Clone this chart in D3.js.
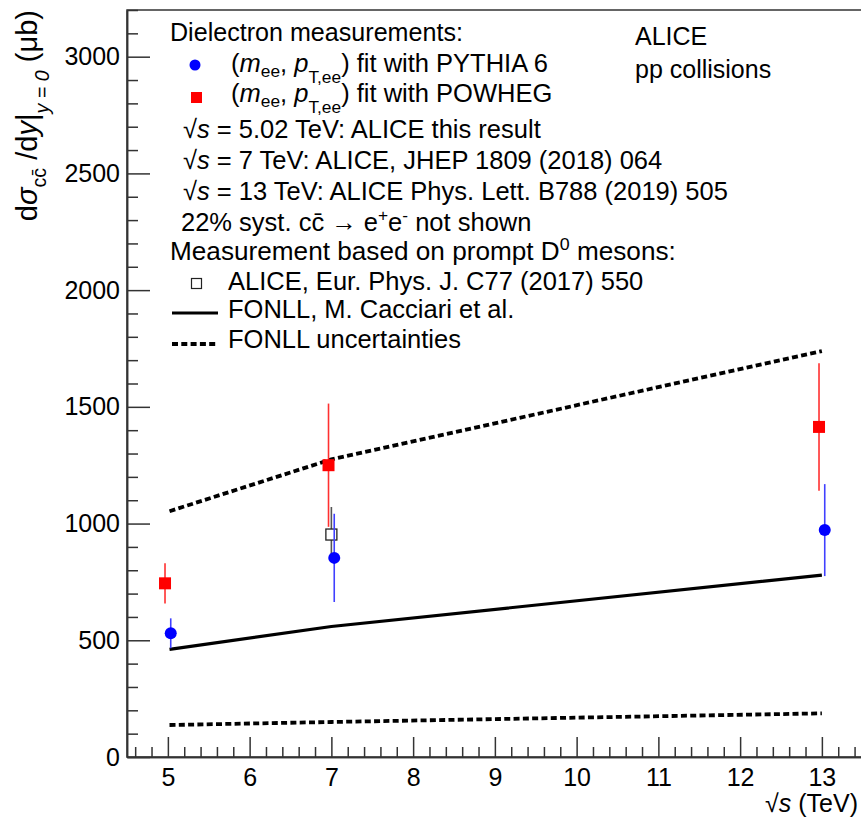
<!DOCTYPE html>
<html>
<head>
<meta charset="utf-8">
<script src="https://cdn.jsdelivr.net/npm/d3@7"></script>
<style>
  html, body { margin: 0; padding: 0; background: #fff; }
  svg { display: block; }
  text { font-family: "Liberation Sans", Arial, Helvetica, sans-serif; fill: #000; }
</style>
</head>
<body>
<svg id="chart" width="861" height="821"></svg>
<script>
// ---------------- data ----------------
const measEnergies = [5, 7, 13];            // sqrt(s) in TeV (display positions of the 3 measurements)
const pythiaValues = [530, 853, 972];       // ub
const pythiaErrors = [64, 189, 197];
const powhegValues = [744, 1250, 1414];
const powhegErrors = [86, 264, 273];
const d0Energies = [7];
const d0Values = [953];
const d0Errors = [118];
const fonllEnergies = [5.02, 7, 13];
const fonllCentral = [461, 559, 779];
const fonllUpper = [1053, 1275, 1739];
const fonllLower = [137, 150, 187];
const xTickValues = [5, 6, 7, 8, 9, 10, 11, 12, 13];
const yTickValues = [0, 500, 1000, 1500, 2000, 2500, 3000];

// ---------------- layout ----------------
const svg = d3.select("#chart");
const L = 127, T = 10, B = 757;
const x = d3.scaleLinear().domain([4.5, 14]).range([L, L + 9.5 * 81.75]);
const y = d3.scaleLinear().domain([0, 3200]).range([B, T]);
const axisColor = "#333";
const FS = 25;
const LFS = 25.5;

// frame
svg.append("rect").attr("x", L).attr("y", T)
  .attr("width", x(14) - L).attr("height", B - T)
  .attr("fill", "none").attr("stroke", axisColor).attr("stroke-width", 1.5);

// y axis
const yMinor = d3.range(0, 3201, 100).filter(v => v % 500 !== 0);
const gyMinor = svg.append("g").attr("transform", `translate(${L},0)`)
  .call(d3.axisLeft(y).tickValues(yMinor).tickSize(-11).tickSizeOuter(0).tickFormat(""));
const gy = svg.append("g").attr("transform", `translate(${L},0)`)
  .call(d3.axisLeft(y).tickValues(yTickValues).tickSize(-23).tickSizeOuter(0).tickPadding(7).tickFormat(d3.format("d")));
// x axis
const xMinor = d3.range(4.6, 14.01, 0.2).filter(v => Math.abs(v - Math.round(v)) > 0.01);
const gxMinor = svg.append("g").attr("transform", `translate(0,${B})`)
  .call(d3.axisBottom(x).tickValues(xMinor).tickSize(-10).tickSizeOuter(0).tickFormat(""));
const gx = svg.append("g").attr("transform", `translate(0,${B})`)
  .call(d3.axisBottom(x).tickValues(xTickValues).tickSize(-20).tickSizeOuter(0).tickPadding(11).tickFormat(d3.format("d")));
[gy, gyMinor, gx, gxMinor].forEach(g => {
  g.selectAll("path.domain").attr("stroke", axisColor).attr("stroke-width", 1.5);
  g.selectAll(".tick line").attr("stroke", axisColor).attr("stroke-width", 1.5);
  g.selectAll("text").attr("font-size", FS).attr("font-family", "Liberation Sans, Arial, sans-serif").attr("fill", "#000");
});

// ---------------- rich text helper ----------------
function rich(parent, px, py, parts, size, opts = {}) {
  const t = parent.append("text").attr("x", px).attr("y", py).attr("font-size", size);
  if (opts.anchor) t.attr("text-anchor", opts.anchor);
  if (opts.transform) t.attr("transform", opts.transform);
  let cur = 0;
  parts.forEach(p => {
    const [str, kind, shift] = p;
    const s = t.append("tspan").text(str);
    let target = 0, fs = size;
    if (kind && kind.includes("sub")) { target = (shift !== undefined ? shift : 0.22) * size; fs = size * 0.68; }
    if (kind && kind.includes("sup")) { target = (shift !== undefined ? shift : -0.38) * size; fs = size * 0.68; }
    if (kind && kind.includes("i")) s.attr("font-style", "italic");
    s.attr("font-size", fs);
    if (target !== cur) { s.attr("dy", target - cur); cur = target; }
  });
  return t;
}
// stretch a text horizontally so that it ends at a given x
function fitTo(t, x0, y0, xEnd) {
  const w = t.node().getComputedTextLength();
  const s = (xEnd - x0) / w;
  t.attr("x", 0).attr("y", 0).attr("transform", `translate(${x0},${y0}) scale(${s},1)`);
}

// ---------------- FONLL curves ----------------
const line = d3.line().x(d => x(d[0])).y(d => y(d[1]));
const pts = arr => fonllEnergies.map((e, i) => [e, arr[i]]);
svg.append("path").attr("d", line(pts(fonllUpper))).attr("fill", "none")
  .attr("stroke", "#000").attr("stroke-width", 3.8).attr("stroke-dasharray", "6,3.3");
svg.append("path").attr("d", line(pts(fonllLower))).attr("fill", "none")
  .attr("stroke", "#000").attr("stroke-width", 3.8).attr("stroke-dasharray", "6,3.3");
svg.append("path").attr("d", line(pts(fonllCentral))).attr("fill", "none")
  .attr("stroke", "#000").attr("stroke-width", 3.2);

// ---------------- measurements ----------------
const shift = 0.035;
const gRed = svg.append("g");
measEnergies.forEach((e, i) => {
  const cx = x(e - shift);
  gRed.append("line").attr("x1", cx).attr("x2", cx)
    .attr("y1", y(powhegValues[i] - powhegErrors[i])).attr("y2", y(powhegValues[i] + powhegErrors[i]))
    .attr("stroke", "#ff3030").attr("stroke-width", 1.6);
});
const gD0 = svg.append("g");
d0Energies.forEach((e, i) => {
  const cx = x(e);
  gD0.append("line").attr("x1", cx).attr("x2", cx)
    .attr("y1", y(d0Values[i] - d0Errors[i])).attr("y2", y(d0Values[i] + d0Errors[i]))
    .attr("stroke", "#555").attr("stroke-width", 1.6);
});
const gBlue = svg.append("g");
measEnergies.forEach((e, i) => {
  const cx = x(e + shift);
  gBlue.append("line").attr("x1", cx).attr("x2", cx)
    .attr("y1", y(pythiaValues[i] - pythiaErrors[i])).attr("y2", y(pythiaValues[i] + pythiaErrors[i]))
    .attr("stroke", "#4040ff").attr("stroke-width", 1.6);
});
measEnergies.forEach((e, i) => {
  gRed.append("rect").attr("x", x(e - shift) - 6).attr("y", y(powhegValues[i]) - 6)
    .attr("width", 12).attr("height", 12).attr("fill", "#ff0000");
});
d0Energies.forEach((e, i) => {
  gD0.append("rect").attr("x", x(e) - 5.5).attr("y", y(d0Values[i]) - 5.5)
    .attr("width", 11).attr("height", 11).attr("fill", "#fff").attr("stroke", "#222").attr("stroke-width", 1.3);
});
measEnergies.forEach((e, i) => {
  gBlue.append("circle").attr("cx", x(e + shift)).attr("cy", y(pythiaValues[i])).attr("r", 6).attr("fill", "#0000ff");
});

// ---------------- legend ----------------
const lg = svg.append("g");
fitTo(rich(lg, 170, 41, [["Dielectron measurements:"]], LFS), 170, 41, 463);
lg.append("circle").attr("cx", 195).attr("cy", 65).attr("r", 5.5).attr("fill", "#0000ff");
rich(lg, 231, 72, [["("], ["m", "i"], ["ee", "sub", 0.2], [", ", "", 0], ["p", "i"], ["T,ee", "sub", 0.45], [")", "", 0], [" fit with PYTHIA 6"]], LFS);
lg.append("rect").attr("x", 191).attr("y", 92).attr("width", 11).attr("height", 11).attr("fill", "#ff0000");
rich(lg, 231, 102, [["("], ["m", "i"], ["ee", "sub", 0.2], [", ", "", 0], ["p", "i"], ["T,ee", "sub", 0.45], [")", "", 0], [" fit with POWHEG"]], LFS);
rich(lg, 183, 138, [["√"], ["s", "i"], [" = 5.02 TeV: ALICE this result"]], LFS);
rich(lg, 183, 169, [["√"], ["s", "i"], [" = 7 TeV: ALICE, JHEP 1809 (2018) 064"]], LFS);
rich(lg, 183, 200, [["√"], ["s", "i"], [" = 13 TeV: ALICE Phys. Lett. B788 (2019) 505"]], LFS);
rich(lg, 181, 231, [["22% syst. cc\u0304 \u2192 e"], ["+", "sup"], ["e", "", 0], ["-", "sup"], [" not shown", "", 0]], LFS);
fitTo(rich(lg, 170, 260, [["Measurement based on prompt D"], ["0", "sup"], [" mesons:", "", 0]], LFS), 170, 260, 676);
lg.append("rect").attr("x", 191.5).attr("y", 278.5).attr("width", 10).attr("height", 10)
  .attr("fill", "#fff").attr("stroke", "#222").attr("stroke-width", 1.2);
rich(lg, 228, 290, [["ALICE, Eur. Phys. J. C77 (2017) 550"]], LFS);
lg.append("line").attr("x1", 172).attr("x2", 218).attr("y1", 313).attr("y2", 313)
  .attr("stroke", "#000").attr("stroke-width", 3.2);
rich(lg, 228, 318, [["FONLL, M. Cacciari et al."]], LFS);
lg.append("line").attr("x1", 172).attr("x2", 218).attr("y1", 344).attr("y2", 344)
  .attr("stroke", "#000").attr("stroke-width", 3.8).attr("stroke-dasharray", "6,3.3");
rich(lg, 228, 348, [["FONLL uncertainties"]], LFS);

rich(svg, 635, 45, [["ALICE"]], FS);
rich(svg, 635, 78, [["pp collisions"]], FS);

// ---------------- axis titles ----------------
rich(svg, 858, 812, [["√"], ["s", "i"], [" (TeV)"]], FS, { anchor: "end" });
rich(svg, 0, 0, [["d"], ["σ", "i"], ["cc\u0304", "sub", 0.3], [" /d", "", 0], ["y", "i"], ["|"], ["y = 0", "isub", 0.4], [" (μb)", "", 0]], 29,
  { anchor: "end", transform: "translate(37,10) rotate(-90)" });
</script>
</body>
</html>
